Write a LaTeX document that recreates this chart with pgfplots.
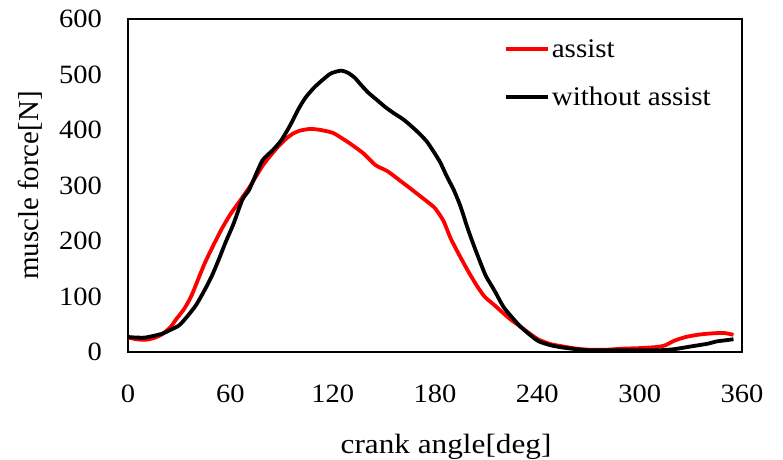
\documentclass[border=0pt]{standalone}
\usepackage{pgfplots}
\pgfplotsset{compat=1.18}
\usepackage{fontspec}
\setmainfont{Liberation Serif}
\newfontfamily\wfont[FakeStretch=1.08]{Liberation Serif}
\newfontfamily\xfont[FakeStretch=1.12]{Liberation Serif}
\begin{document}
\begin{tikzpicture}
\path[use as bounding box] (-128bp,-108bp) rectangle (655bp,352bp);
\begin{axis}[
  scale only axis,
  width=614bp, height=333bp,
  at={(0,0)}, anchor=south west,
  xmin=0, xmax=360, ymin=0, ymax=600,
  xtick={0,60,...,360}, ytick={0,100,...,600},
  major tick length=0pt,
  axis line style={line width=2.5bp},
  /pgf/number format/assume math mode=true,
  ticklabel style={font=\fontsize{26.5}{30}\selectfont\wfont, inner sep=0pt},
  xticklabel style={anchor=north, yshift=-33bp},
  yticklabel style={anchor=east, xshift=-26bp},
  xlabel={crank angle[deg]},
  ylabel={muscle force[N]},
  xlabel style={font=\fontsize{28}{32}\selectfont\xfont, at={(axis description cs:0.518,0)}, anchor=base, yshift=-101bp, inner sep=0pt},
  ylabel style={font=\fontsize{29}{33}\selectfont, at={(axis description cs:-0.145,0.5)}, anchor=base, rotate=0, inner sep=0pt},
  legend style={draw=none, fill=none, at={(axis description cs:0.611,0.945)}, anchor=north west,
    font=\fontsize{27}{31}\selectfont\wfont, row sep=24bp, inner sep=0pt,
    nodes={inner sep=2pt}},
  legend cell align=left,
  legend image code/.code={\draw[#1, line width=4.5bp] (0bp,0bp) -- (42bp,0bp);},
  every axis plot/.append style={line width=3.8bp, line join=round},
]
\addplot[red, smooth, tension=0.4] coordinates {
(0,26) (5,23) (10,22) (15,25) (20,32) (25,45) (28,58) (33,78) (37,100) (41,130)
(45,160) (50,192) (55,222) (60,248) (66,274) (71,296) (75,316) (79,336) (83,352)
(88,370) (93,385) (97,394) (101,399) (107,402) (113,400) (120,395) (125,386)
(130,376) (138,358) (145,337) (152,326) (159,310) (165,296) (170,284) (175,272)
(180,259) (185,236) (189,206) (194,176) (199,148) (204,122) (209,100) (215,84)
(220,70) (225,57) (230,46) (236,32) (241,22) (248,14) (255,10) (263,6) (271,4)
(280,4) (290,6) (300,7) (310,9) (315,12) (320,20) (327,27) (334,31) (340,33)
(345,34) (350,34) (355,31)
};
\addlegendentry{assist}
\addplot[black, smooth, tension=0.4] coordinates {
(0,27) (5,26) (10,26) (15,29) (20,33) (25,40) (30,48) (35,65) (40,85) (45,112)
(49,136) (53,165) (57,196) (62,232) (67,274) (71,292) (75,320) (79,346) (85,364)
(90,382) (95,408) (100,438) (104,458) (109,476) (114,490) (119,502) (125,507)
(129,503) (133,494) (137,480) (141,467) (146,454) (151,441) (156,430) (161,420)
(165,410) (170,396) (175,380) (179,362) (183,342) (187,316) (191,292) (195,262)
(199,224) (203,190) (207,158) (210,136) (215,110) (220,82) (225,63) (230,46)
(236,30) (241,19) (248,12) (255,8) (263,5) (271,3) (290,3) (310,3) (320,5)
(330,10) (340,15) (345,19) (350,21) (355,23)
};
\addlegendentry{without assist}
\end{axis}
\end{tikzpicture}
\end{document}
